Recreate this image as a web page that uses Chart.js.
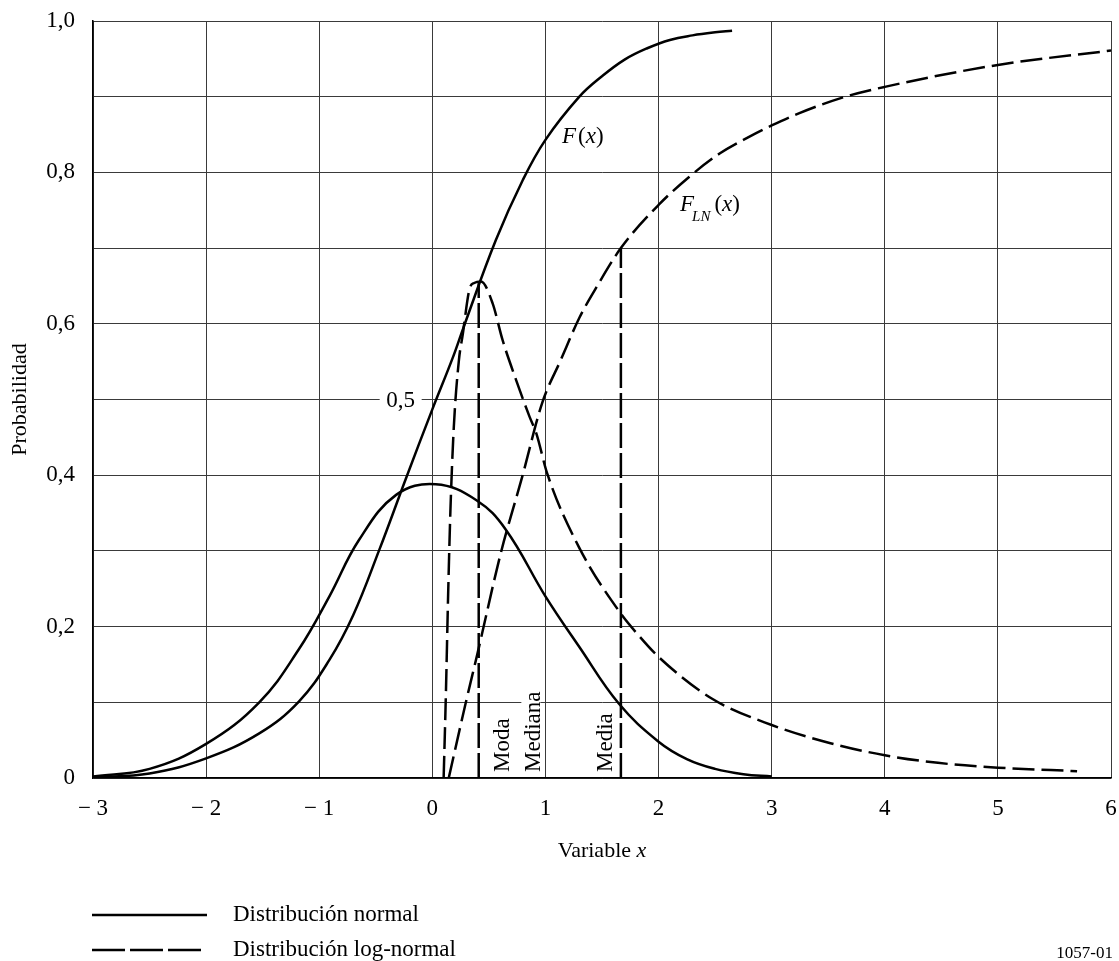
<!DOCTYPE html>
<html><head><meta charset="utf-8">
<script src="https://cdn.jsdelivr.net/npm/chart.js@4/dist/chart.umd.min.js"></script>
<style>html,body{margin:0;padding:0;background:#fff}canvas{display:block}</style>
</head><body>
<canvas id="c" width="1119" height="961"></canvas>
<script>
// ---- data ----
const xTickLabels = ['\u2212 3','\u2212 2','\u2212 1','0','1','2','3','4','5','6'];
const yTickLabels = ['0','','0,2','','0,4','','0,6','','0,8','','1,0'];

// Normal distribution: density
const normPdfX = [-3, -2.5, -2, -1.53, -1.18, -0.91, -0.65, -0.32, 0.03, 0.39, 0.65, 1.0, 1.3, 1.65, 2.0, 2.25, 2.5, 2.75, 3.0];
const normPdfY = [0.002, 0.012, 0.045, 0.100, 0.170, 0.240, 0.314, 0.374, 0.388, 0.367, 0.328, 0.240, 0.173, 0.098, 0.048, 0.025, 0.012, 0.005, 0.002];
// Normal distribution: cumulative F(x)
const normCdfX = [-3, -2.5, -2, -1.53, -1.18, -0.91, -0.7, -0.47, -0.235, 0.0, 0.18, 0.28, 0.56, 0.8, 1.0, 1.3, 1.5, 1.7, 1.9, 2.1, 2.3, 2.5, 2.65];
const normCdfY = [0.001, 0.006, 0.026, 0.059, 0.101, 0.156, 0.215, 0.301, 0.395, 0.487, 0.555, 0.597, 0.710, 0.790, 0.843, 0.900, 0.927, 0.949, 0.964, 0.975, 0.981, 0.985, 0.987];
// Log-normal distribution: density
const lnPdfX = [0.10, 0.12, 0.14, 0.16, 0.19, 0.235, 0.268, 0.327, 0.37, 0.43, 0.533, 0.62, 0.74, 0.86, 0.92, 1.016, 1.296, 1.667, 1.82, 2.0, 2.47, 3.0, 3.52, 4.0, 4.47, 5.0, 5.7];
const lnPdfY = [0.0, 0.112, 0.244, 0.354, 0.464, 0.552, 0.585, 0.645, 0.654, 0.656, 0.627, 0.579, 0.526, 0.477, 0.455, 0.402, 0.305, 0.217, 0.189, 0.160, 0.105, 0.070, 0.046, 0.030, 0.020, 0.0137, 0.009];
// Log-normal distribution: cumulative F_LN(x)
const lnCdfX = [0.145, 0.295, 0.40, 0.605, 0.795, 0.97, 1.135, 1.30, 1.45, 1.667, 2.0, 2.27, 2.54, 2.8, 3.0, 3.24, 3.65, 4.0, 5.0, 6.0];
const lnCdfY = [0.0, 0.099, 0.165, 0.297, 0.398, 0.495, 0.552, 0.608, 0.648, 0.700, 0.757, 0.794, 0.825, 0.847, 0.862, 0.878, 0.900, 0.913, 0.942, 0.961];
// Mode and mean markers of the log-normal distribution
const modeX = [0.41, 0.41];
const modeY = [0, 0.655];
const meanX = [1.667, 1.667];
const meanY = [0, 0.700];

const legendLabels = ['Distribución normal', 'Distribución log-normal'];
const markerLabels = ['Moda', 'Mediana', 'Media'];

// ---- helpers ----
const FONT = '"Liberation Serif", "Times New Roman", serif';
const pts = (xs, ys) => xs.map((x, i) => ({x, y: ys[i]}));

function lineDs(xs, ys, dash, mode) {
  return {
    data: pts(xs, ys),
    borderColor: '#000',
    borderWidth: 2.5,
    borderDash: dash,
    pointRadius: 0,
    fill: false,
    tension: mode ? 0.4 : 0,
    cubicInterpolationMode: mode === 'mono' ? 'monotone' : 'default',
    borderCapStyle: 'butt'
  };
}

const annot = {
  id: 'annot',
  beforeDatasetsDraw(chart) {
    const ctx = chart.ctx, sx = chart.scales.x, sy = chart.scales.y;
    ctx.save();
    // "0,5" label over the 0.5 gridline
    const y5 = sy.getPixelForValue(0.5);
    const cx5 = sx.getPixelForValue(-0.28);
    ctx.fillStyle = '#fff';
    ctx.fillRect(cx5 - 21, y5 - 6, 42, 12);
    ctx.fillStyle = '#000';
    ctx.font = '23px ' + FONT;
    ctx.textAlign = 'center';
    ctx.textBaseline = 'middle';
    ctx.fillText('0,5', cx5, y5 + 1);
    // vertical labels
    const yb = sy.getPixelForValue(0) - 6;
    const vl = [[markerLabels[0], 0.68], [markerLabels[1], 0.955], [markerLabels[2], 1.585]];
    ctx.textAlign = 'left';
    ctx.textBaseline = 'alphabetic';
    vl.forEach(([t, xv]) => {
      const bx = sx.getPixelForValue(xv);
      const w = ctx.measureText(t).width;
      ctx.fillStyle = '#fff';
      ctx.fillRect(bx - 19, yb - w - 3, 19, w + 5);
      ctx.fillStyle = '#000';
      ctx.save();
      ctx.translate(bx, yb);
      ctx.rotate(-Math.PI / 2);
      ctx.fillText(t, 0, 0);
      ctx.restore();
    });
    ctx.restore();
  },
  afterDraw(chart) {
    const ctx = chart.ctx, ca = chart.chartArea;
    ctx.save();
    ctx.fillStyle = '#000';
    ctx.textBaseline = 'alphabetic';
    ctx.textAlign = 'left';
    // F(x)
    let x = 562, b = 143;
    const seg = (t, f, dy) => { ctx.font = f; ctx.fillText(t, x, b + (dy || 0)); x += ctx.measureText(t).width; };
    seg('F', 'italic 23px ' + FONT); x += 2;
    seg('(', '23px ' + FONT);
    seg('x', 'italic 23px ' + FONT);
    seg(')', '23px ' + FONT);
    // F_LN(x)
    x = 680; b = 211;
    seg('F', 'italic 23px ' + FONT);
    x -= 2;
    seg('LN', 'italic 15px ' + FONT, 10);
    x += 4;
    seg('(', '23px ' + FONT);
    seg('x', 'italic 23px ' + FONT);
    seg(')', '23px ' + FONT);
    // y-axis title
    ctx.save();
    ctx.translate(20, (ca.top + ca.bottom) / 2);
    ctx.rotate(-Math.PI / 2);
    ctx.font = '22px ' + FONT;
    ctx.textAlign = 'center';
    ctx.textBaseline = 'middle';
    ctx.fillText('Probabilidad', 0, 0);
    ctx.restore();
    // x-axis title: "Variable x"
    ctx.textBaseline = 'middle';
    ctx.font = '22px ' + FONT;
    const w1 = ctx.measureText('Variable ').width;
    ctx.font = 'italic 22px ' + FONT;
    const w2 = ctx.measureText('x').width;
    const cx = (ca.left + ca.right) / 2;
    x = cx - (w1 + w2) / 2;
    ctx.font = '22px ' + FONT;
    ctx.fillText('Variable ', x, 851);
    ctx.font = 'italic 22px ' + FONT;
    ctx.fillText('x', x + w1, 851);
    // legend
    ctx.strokeStyle = '#000';
    ctx.lineWidth = 2.5;
    ctx.beginPath(); ctx.moveTo(92, 915); ctx.lineTo(207, 915); ctx.stroke();
    ctx.setLineDash([33, 5]);
    ctx.beginPath(); ctx.moveTo(92, 950); ctx.lineTo(202, 950); ctx.stroke();
    ctx.setLineDash([]);
    ctx.font = '23px ' + FONT;
    ctx.fillText(legendLabels[0], 233, 915);
    ctx.fillText(legendLabels[1], 233, 950);
    // figure id
    ctx.font = '17px ' + FONT;
    ctx.textAlign = 'right';
    ctx.fillText('1057-01', 1113, 954);
    ctx.restore();
  }
};

new Chart(document.getElementById('c'), {
  type: 'line',
  data: {
    datasets: [
      lineDs(normPdfX, normPdfY, [], 'spline'),
      lineDs(normCdfX, normCdfY, [], 'spline'),
      lineDs(lnPdfX, lnPdfY, [22, 7], 'mono'),
      lineDs(lnCdfX, lnCdfY, [22, 7], 'mono'),
      lineDs(modeX, modeY, [25, 5], null),
      lineDs(meanX, meanY, [25, 5], null)
    ]
  },
  options: {
    responsive: false,
    devicePixelRatio: 1,
    animation: false,
    layout: { padding: { top: 21, right: 8, left: 0, bottom: 0 } },
    plugins: { legend: { display: false }, tooltip: { enabled: false } },
    scales: {
      x: {
        type: 'linear', min: -3, max: 6,
        afterFit: s => { s.height = 183; s.paddingLeft = 0; s.paddingRight = 0; },
        ticks: {
          stepSize: 1, padding: 17, color: '#000', maxRotation: 0, autoSkip: false,
          font: { family: FONT, size: 23 },
          callback: (v, i) => xTickLabels[i]
        },
        grid: { color: '#3a3a3a', lineWidth: 1, drawTicks: false },
        border: { color: '#000', width: 1.5 }
      },
      y: {
        min: 0, max: 1,
        afterFit: s => { s.width = 93; s.paddingTop = 0; s.paddingBottom = 0; },
        ticks: {
          stepSize: 0.1, padding: 18, color: '#000', autoSkip: false,
          font: { family: FONT, size: 23 },
          callback: (v, i) => yTickLabels[i]
        },
        grid: { color: '#3a3a3a', lineWidth: 1, drawTicks: false },
        border: { color: '#000', width: 1.5 }
      }
    }
  },
  plugins: [annot]
});
</script>
</body></html>
